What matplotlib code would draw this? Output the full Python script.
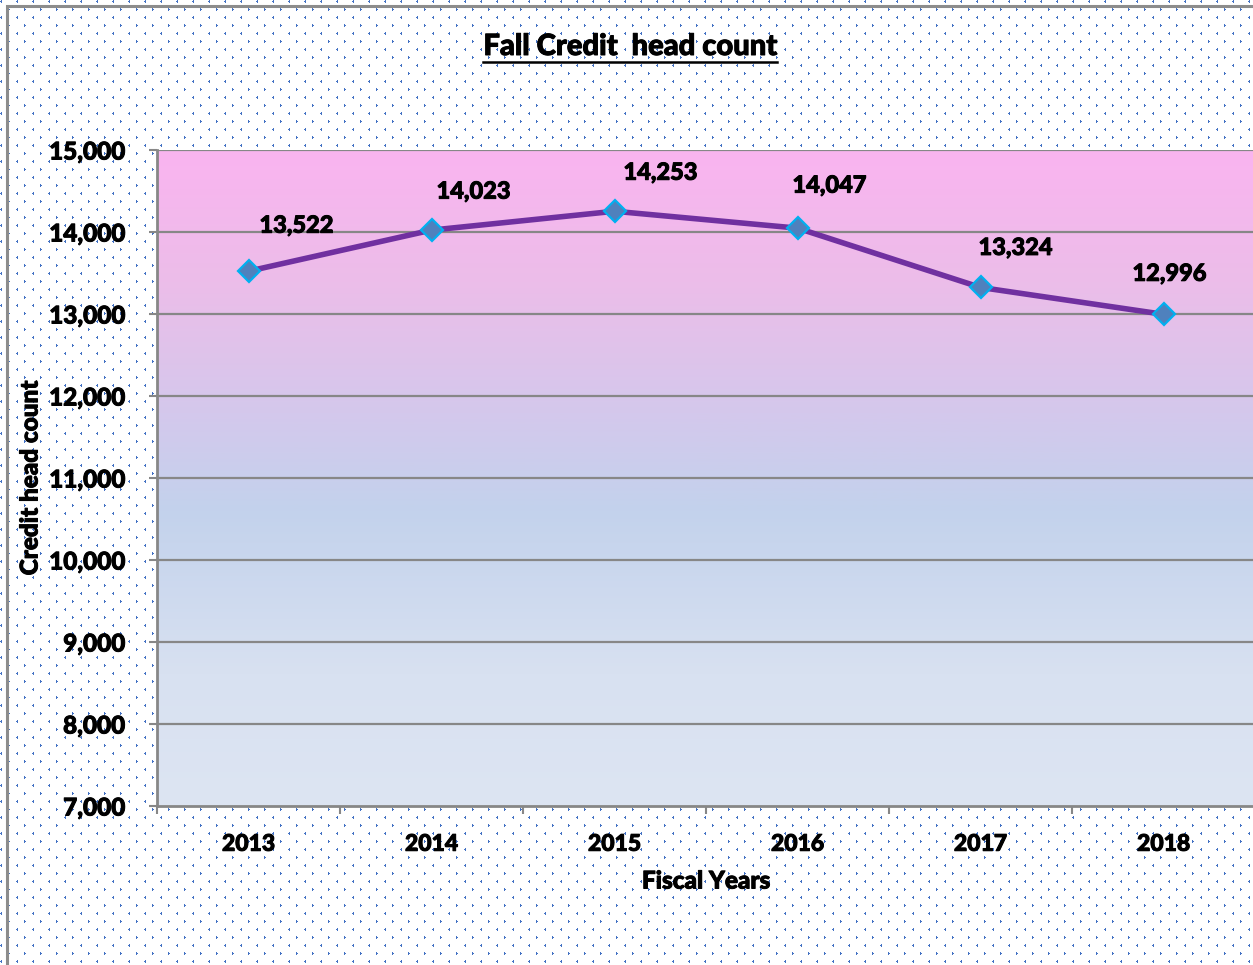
import numpy as np
import matplotlib
matplotlib.use("Agg")
import matplotlib.pyplot as plt
import matplotlib.patheffects as pe
from matplotlib.colors import LinearSegmentedColormap
from matplotlib.lines import Line2D
from matplotlib.patches import Rectangle

# Datos del grafico
anios = ["2013", "2014", "2015", "2016", "2017", "2018"]
conteo = [13522, 14023, 14253, 14047, 13324, 12996]
etiquetas = ["13,522", "14,023", "14,253", "14,047", "13,324", "12,996"]
ticks_y = [7000, 8000, 9000, 10000, 11000, 12000, 13000, 14000, 15000]

plt.rcParams["font.family"] = ["Lato", "DejaVu Sans"]
peso = 900
# Un trazo fino para engrosar el texto (parecido a Calibri negrita)
grueso = [pe.withStroke(linewidth=0.7, foreground="black")]

W, H = 1253, 965
fig = plt.figure(figsize=(W / 100, H / 100), dpi=100)

# Fondo con patron de puntitos azules (textura)
fondo = np.ones((H, W, 3))
azul = np.array([0x44, 0x72, 0xC4]) / 255
tile = np.zeros((16, 16), dtype=bool)
tile[0, 1] = tile[1, 0] = tile[2, 1] = tile[1, 1] = True      # "<"
tile[8, 8] = tile[9, 9] = tile[10, 8] = tile[9, 8] = True     # ">"
mask = np.tile(tile, (H // 16 + 1, W // 16 + 1))[:H, :W]
fondo[mask] = azul
fig.figimage(fondo, xo=0, yo=0, origin="upper", zorder=-5)

# Borde exterior gris
fig.add_artist(Rectangle((7 / W, -0.1), 1.2, (H - 6) / H + 0.1, transform=fig.transFigure,
                         fill=False, edgecolor="#8c8c8c", linewidth=2.2, zorder=-1))

ax = fig.add_axes([157 / W, (H - 806) / H, (1255 - 157) / W, (806 - 150) / H])
ax.set_xlim(-0.5, 5.5)
ax.set_ylim(7000, 15000)

# Degradado de fondo del area de trazado
cmap = LinearSegmentedColormap.from_list("fondo", [
    (0.0, "#dde5f3"), (0.2, "#d8e1f1"), (0.45, "#c3d2ec"),
    (0.6, "#d4c8ec"), (0.8, "#ecbde9"), (1.0, "#fab4f0")])
grad = np.linspace(0, 1, 256).reshape(-1, 1)
ax.imshow(grad, cmap=cmap, aspect="auto", origin="lower",
          extent=(-0.5, 5.5, 7000, 15000), zorder=0)

for v in ticks_y[1:]:
    ax.axhline(v, color="#878787", linewidth=1.6, zorder=1)

x = np.arange(len(anios))
ax.plot(x, conteo, color="#7030A0", linewidth=4, zorder=3,
        marker="D", markersize=11, markerfacecolor="#4F81BD",
        markeredgecolor="#00B0F0", markeredgewidth=1.6)

desplaz = [(48, 46), (42, 39), (46, 39), (32, 43), (35, 40), (6, 41)]
for xi, yi, txt, (dx, dy) in zip(x, conteo, etiquetas, desplaz):
    ax.annotate(txt, (xi, yi), xytext=(dx * 0.72, dy * 0.72), textcoords="offset points",
                ha="center", va="center", fontsize=17, fontweight=peso, zorder=4,
                path_effects=grueso)

ax.set_yticks(ticks_y)
ax.set_yticklabels(["{:,}".format(v) for v in ticks_y], fontsize=17.5, fontweight=peso,
                   path_effects=grueso)
ax.set_xticks(x)
ax.set_xticklabels(anios, fontsize=16.5, fontweight=peso, path_effects=grueso)
ax.set_xticks(np.arange(-0.5, 6, 1), minor=True)
ax.tick_params(axis="x", which="major", length=0, pad=20)
ax.tick_params(axis="x", which="minor", length=6, width=1.5, color="#878787", direction="out")
ax.tick_params(axis="y", length=6, width=1.5, color="#878787", pad=17)

for lado in ["top", "right"]:
    ax.spines[lado].set_visible(False)
for lado in ["left", "bottom"]:
    ax.spines[lado].set_color("#878787")
    ax.spines[lado].set_linewidth(2)

ax.set_xlabel("Fiscal Years", fontsize=17.5, fontweight=peso, path_effects=grueso)
ax.set_ylabel("Credit head count", fontsize=17.5, fontweight=peso, path_effects=grueso)
ax.yaxis.set_label_coords(-(157 - 30) / (1255 - 157), 0.5)
ax.xaxis.set_label_coords(0.5, -(881 - 806) / (806 - 150))
ax.xaxis.label.set_va("center")
ax.yaxis.label.set_va("center")

# Titulo subrayado
titulo = fig.text(630 / W, 1 - 47 / H, "Fall Credit  head count", ha="center", va="center",
                  fontsize=21, fontweight=peso, path_effects=grueso)
fig.canvas.draw()
bb = titulo.get_window_extent().transformed(fig.transFigure.inverted())
fig.add_artist(Line2D([bb.x0, bb.x1], [bb.y0 - 0.002, bb.y0 - 0.002],
                      transform=fig.transFigure, color="black", linewidth=1.8))

fig.savefig("out.png", dpi=100)
